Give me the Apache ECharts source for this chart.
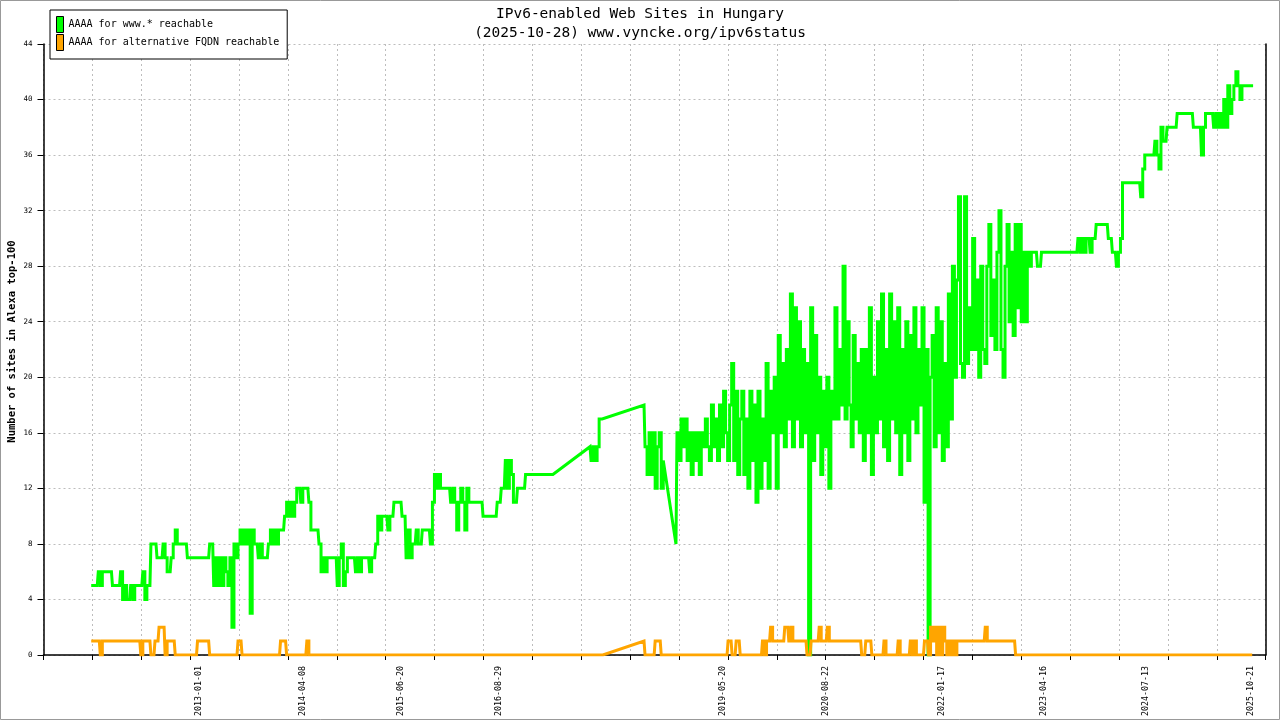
<!DOCTYPE html>
<html>
<head>
<meta charset="utf-8">
<title>IPv6-enabled Web Sites in Hungary</title>
<script src="https://cdn.jsdelivr.net/npm/echarts@6/dist/echarts.min.js"></script>
<style>
  html, body { margin: 0; padding: 0; background: #fff; }
  #main { width: 1280px; height: 720px; }
</style>
</head>
<body>
<div id="main"></div>
<script>
// samples are one every 9 days
var STEP_DAYS = 9;

var titleLine1 = 'IPv6-enabled Web Sites in Hungary';
var titleLine2 = '(2025-10-28) www.vyncke.org/ipv6status';
var wwwName = 'AAAA for www.* reachable';
var altName = 'AAAA for alternative FQDN reachable';

var xLabelDates = ['2013-01-01', '2014-04-08', '2015-06-20', '2016-08-29', '2019-05-20',
  '2020-08-22', '2022-01-17', '2023-04-16', '2024-07-13', '2025-10-21'];
var xStart = '2011-02-12';
var xEnd = '2025-12-27';
var xTickCount = 25;

// AAAA for www.* reachable
var www2011Start = '2011-09-12';
var www2011 = [5,5,5,5,6,5,6,6,6,6,6,5,5,5,5,6,4,5,4,4,
  5,4,5,5,5,5,6,4,5,5,8,8,8,7,7,7,8,7,6,6,
  7,8,9,8,8,8,8,8,7,7,7,7,7,7,7,7,7,7,7,8,
  8,5,7,5,7,5,7,6,5,7,2,8,7,8,9,8,9,8,9,3,
  9,8,8,7,8,7,7,7,8,9,8,9,8,9,9,9,10,11,10,11,
  10,11,12,12,11,12,12,12,11,9,9,9,9,8,6,7,6,7,7,7,
  7,7,5,7,8,5,6,7,7,7,7,6,7,6,7,7,7,7,6,7,
  7,8,10,9,10,10,10,9,10,10,11,11,11,11,10,10,7,9,7,8,
  8,9,8,8,9,9,9,9,8,11,13,12,13,12,12,12,12,12,11,12,
  11,9,11,12,11,9,12,11,11,11,11,11,11,11,10,10,10,10,10,10,
  10,11,11,12,12,14,12,14,13,11,11,12,12,12,12,13,13,13,13,13,
  13,13,13,13,13,13,13,13,13];
var www2017Start = '2017-10-07';
var www2017 = [15,14,15,14,15,17,17];
var www2018aStart = '2018-06-04';
var www2018a = [18,15,13,16,13,16,12,15,16,12,14];
var www2018bStart = '2018-10-24';
var www2018b = [8,16,14,17,15,17,14,16,13,16,14,16,
  13,16,15,17,15,14,18,15,17,14,18,15,19,16,14,18,
  21,14,19,13,17,19,13,17,12,19,14,18,11,19,12,17,14,21,12,19,16,20,12,
  23,16,21,15,22,17,26,15,25,17,24,15,22,16,21,
  0,
  25,14,23,16,20,13,19,15,20,12,19,17,25,17,22,18,
  28,
  17,24,18,15,23,17,21,16,22,14,22,16,25,13,20,16,24,17,26,15,
  22,14,26,17,24,16,25,13,22,16,24,14,23,17,25,16,22,18,25,11,22,
  0,
  20,23,15,25,16,24,14,21,15,26,17,28,20,27,33,21,20,33,21,25,
  22,30,22,27,20,28,22,21,28,31,23,27,22,29,32,22,20,28,31,24,
  29,23,31,25,31,24,29,24,29,28,29,
  29,29,28,28,29,
  29,29,29,29,29,29,29,29,29,29,29,29,29,29,29,29,29,
  30,29,30,29,30,30,29,30,30,
  31,31,31,31,31,31,
  30,30,29,29,28,29,30,
  34,34,34,34,34,34,34,34,34,
  33,35,36,36,36,36,36,37,36,35,
  38,37,37,38,38,38,38,38,
  39,39,39,39,39,39,39,39,
  38,38,38,38,36,38,39,39,39,39,
  38,39,38,39,38,
  40,38,41,39,40,41,42,41,40,41,
  41,41,41,41,41];

// AAAA for alternative FQDN reachable
var alt2011Start = '2011-09-12';
var alt2011 = [1,1,1,1,1,0,1,1,1,1,1,1,1,1,1,1,1,1,1,1,
  1,1,1,1,1,0,1,1,1,1,0,0,1,1,2,2,2,0,1,1,
  1,1,0,0,0,0,0,0,0,0,0,0,0,1,1,1,1,1,1,0,
  0,0,0,0,0,0,0,0,0,0,0,0,0,1,1,0,0,0,0,0,
  0,0,0,0,0,0,0,0,0,0,0,0,0,0,1,1,1,0,0,0,
  0,0,0,0,0,0,0,1,0,0,0];
var altGap = [['2017-12-03', 0]];
var alt2018Start = '2018-06-04';
var alt2018 = [1,0,0,0,0,0,1,1,1,0,0,0,0,0,0,0,0,0,0,0,
  0,0,0,0,0,0,0,0,0,0,0,0,0,0,0,0,0,0,0,0,
  0,0,1,1,0,0,1,1,0,0,0,0,0,0,0,0,0,0,0,1,
  0,1,1,2,1,1,1,1,1,1,2,2,1,2,1,1,1,1,1,1,
  1,0,0,1,1,1,1,2,1,1,1,2,1,1,1,1,1,1,1,1,
  1,1,1,1,1,1,1,1,0,0,1,1,1,0,0,0,0,0,0,1,
  0,0,0,0,0,0,1,0,0,0,0,0,1,0,1,0,0,0,0,1,
  1,0,2,1,2,0,2,0,2,1,0,1,0,1,0,1,1,1,1,1,
  1,1,1,1,1,1,1,1,1,2,1,1,1,1,1,1,1,1,1,1,
  1,1,1,1,0,0,0];
var altEnd = [['2025-10-28', 0]];

var DAY = 86400000;
var FONT = 'DejaVu Sans Mono';

function dayMs(s) {
  var p = s.split('-');
  return Date.UTC(+p[0], +p[1] - 1, +p[2]);
}
function pad(n) { return n < 10 ? '0' + n : '' + n; }
function fmtDay(v) {
  var d = new Date(v);
  return d.getUTCFullYear() + '-' + pad(d.getUTCMonth() + 1) + '-' + pad(d.getUTCDate());
}
// regular samples inside one run of data; the value changes half way
// between two samples, like the daily polling in the original
function sampled(start, values) {
  var t0 = dayMs(start), step = STEP_DAYS * DAY, out = [];
  for (var i = 0; i < values.length; i++) {
    var t = t0 + i * step;
    if (i > 0 && values[i] !== values[i - 1]) {
      out.push([t - step / 2, values[i - 1]]);
      out.push([t - step / 2, values[i]]);
    }
    out.push([t, values[i]]);
  }
  return out;
}
function points(list) {
  return list.map(function (p) { return [dayMs(p[0]), p[1]]; });
}

// between runs the picture just joins the last and next sample with a slope
var wwwData = [].concat(
  sampled(www2011Start, www2011),
  sampled(www2017Start, www2017),
  sampled(www2018aStart, www2018a),
  sampled(www2018bStart, www2018b)
);
var altData = [].concat(
  sampled(alt2011Start, alt2011),
  points(altGap),
  sampled(alt2018Start, alt2018),
  points(altEnd)
);

var xMin = dayMs(xStart), xMax = dayMs(xEnd);
var xTicks = [];
for (var k = 0; k <= xTickCount; k++) {
  xTicks.push(xMin + (xMax - xMin) * k / xTickCount);
}

var gridLine = { show: true, lineStyle: { color: '#bdbdbd', type: [2, 3], width: 1 } };

var myChart = echarts.init(document.getElementById('main'));
var option = {
  animation: false,
  backgroundColor: '#fff',
  title: [
    { text: titleLine1, left: 'center', top: 7, padding: 0,
      textStyle: { fontFamily: FONT, fontSize: 14.5, fontWeight: 'normal', color: '#000' } },
    { text: titleLine2, left: 'center', top: 25.5, padding: 0,
      textStyle: { fontFamily: FONT, fontSize: 14.5, fontWeight: 'normal', color: '#000' } }
  ],
  legend: {
    orient: 'vertical',
    left: 50,
    top: 10,
    padding: [6, 8, 8, 6],
    itemWidth: 7,
    itemHeight: 16,
    itemGap: 1,
    icon: 'rect',
    backgroundColor: '#fff',
    borderColor: '#000',
    borderWidth: 1,
    borderRadius: 0,
    itemStyle: { borderColor: '#000', borderWidth: 1 },
    textStyle: { fontFamily: FONT, fontSize: 10, color: '#000' },
    data: [wwwName, altName]
  },
  grid: { left: 43.5, right: 14.3, top: 44, bottom: 65, containLabel: false, outerBoundsMode: 'none' },
  xAxis: {
    type: 'value',
    min: xMin,
    max: xMax,
    axisLine: { onZero: false, lineStyle: { color: '#000', width: 1.5 } },
    axisTick: { show: true, length: 5, customValues: xTicks, lineStyle: { color: '#000' } },
    axisLabel: {
      customValues: xLabelDates.map(dayMs),
      rotate: 90,
      margin: 11,
      fontFamily: FONT,
      fontSize: 8.3,
      color: '#000',
      formatter: fmtDay
    },
    splitLine: gridLine
  },
  yAxis: [
    {
      type: 'value',
      min: 0,
      max: 44,
      interval: 4,
      name: 'Number of sites in Alexa top-100',
      nameLocation: 'middle',
      nameRotate: 90,
      nameGap: 26,
      nameMoveOverlap: false,
      nameTextStyle: { fontFamily: FONT, fontSize: 10.5, fontWeight: 'bold', color: '#000', padding: [0, 0, 0, 16] },
      axisLine: { show: true, lineStyle: { color: '#000', width: 1.5 } },
      axisTick: { show: true, length: 6, lineStyle: { color: '#000' } },
      axisLabel: { fontFamily: FONT, fontSize: 7.5, color: '#000', margin: 11 },
      splitLine: gridLine
    },
    {
      type: 'value',
      position: 'right',
      min: 0,
      max: 44,
      interval: 4,
      axisLine: { show: true, lineStyle: { color: '#000', width: 1.5 } },
      axisTick: { show: false },
      axisLabel: { show: false },
      splitLine: { show: false }
    }
  ],
  graphic: [{
    type: 'rect',
    silent: true,
    z: 100,
    shape: { x: 0.5, y: 0.5, width: 1279, height: 719 },
    style: { fill: 'none', stroke: '#999', lineWidth: 1 }
  }],
  series: [
    {
      name: wwwName,
      type: 'line',
      data: wwwData,
      symbol: 'none',
      showSymbol: false,
      silent: true,
      itemStyle: { color: '#00ff00' },
      lineStyle: { color: '#00ff00', width: 3, join: 'miter', cap: 'butt' }
    },
    {
      name: altName,
      type: 'line',
      data: altData,
      symbol: 'none',
      showSymbol: false,
      silent: true,
      itemStyle: { color: '#ffa500' },
      lineStyle: { color: '#ffa500', width: 3, join: 'miter', cap: 'butt' }
    }
  ]
};
myChart.setOption(option);
</script>
</body>
</html>
